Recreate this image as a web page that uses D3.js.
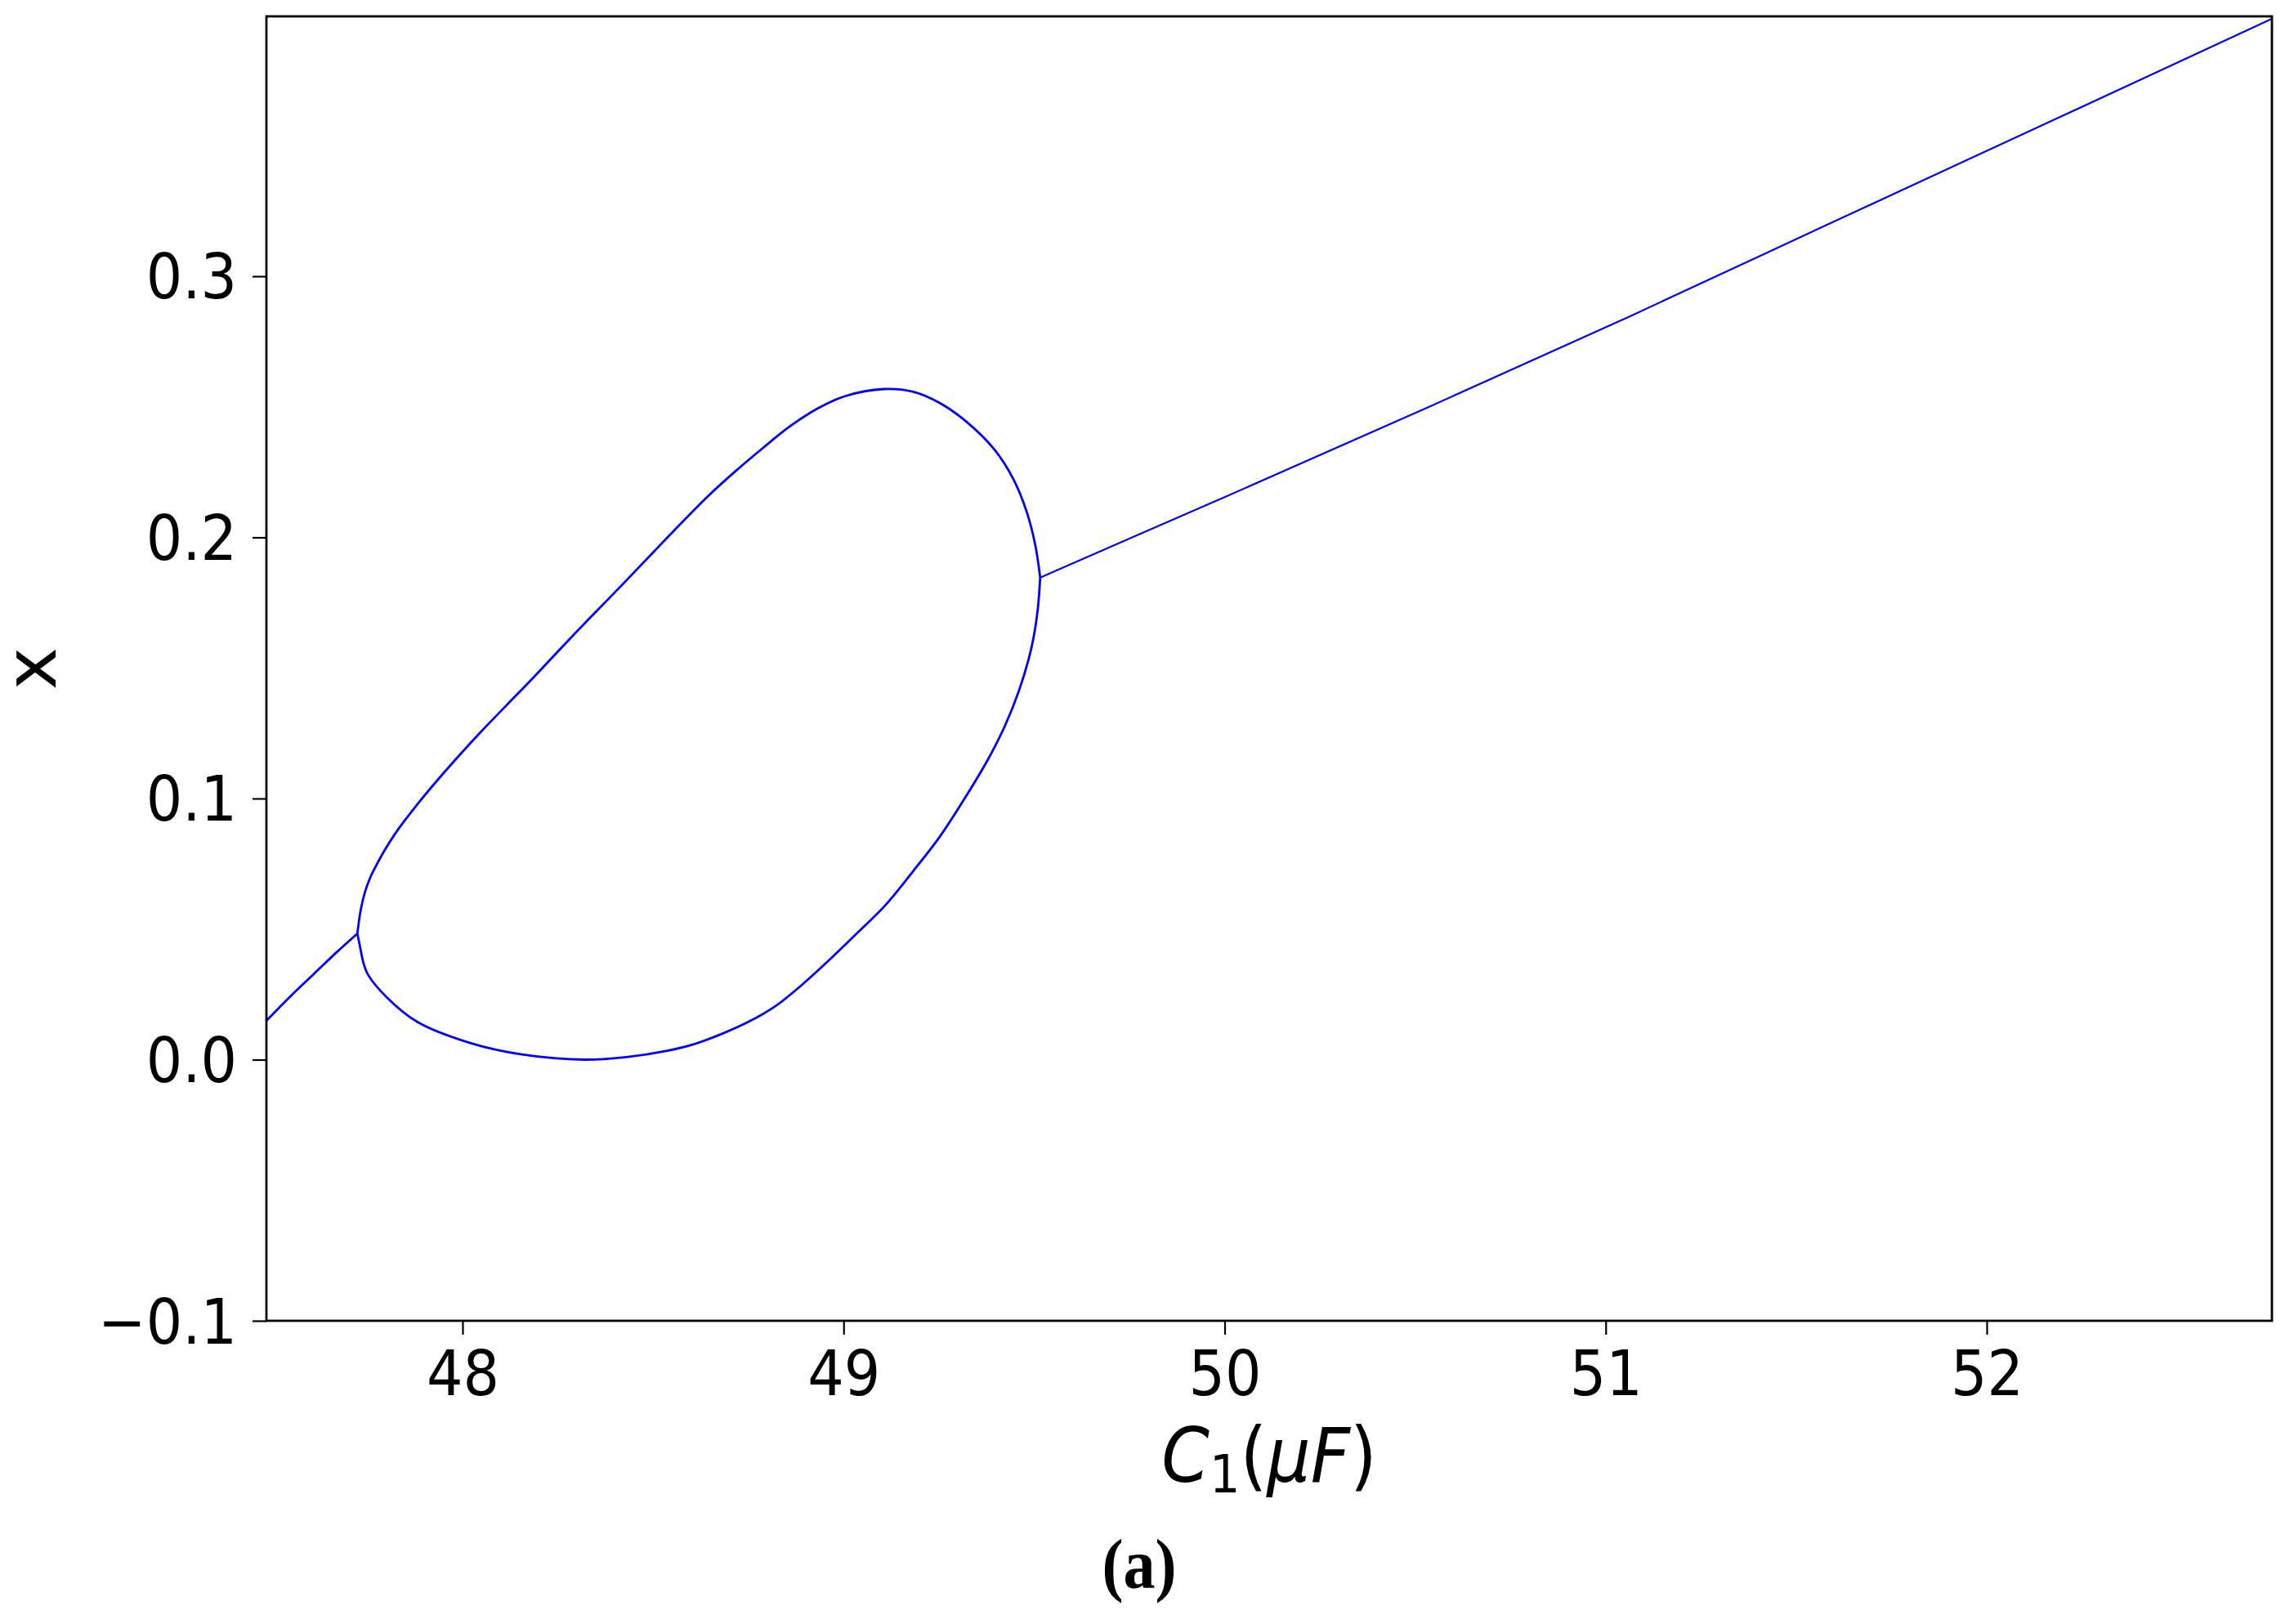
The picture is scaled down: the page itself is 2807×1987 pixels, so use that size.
<!DOCTYPE html>
<html>
<head>
<meta charset="utf-8">
<script src="https://cdn.jsdelivr.net/npm/d3@7"></script>
<style>
  body { margin: 0; background: #fff; }
  text { font-family: "DejaVu Sans", sans-serif; fill: #000; }
</style>
</head>
<body>
<svg width="2807" height="1987"></svg>
<script>
// tick values
const xTicks = [48, 49, 50, 51, 52]
const yTicks = [-0.1, 0.0, 0.1, 0.2, 0.3]

// branch before the loop opens
const leadC1 = [47.486, 47.550, 47.609, 47.670, 47.724]
const leadX  = [0.0150, 0.0245, 0.0327, 0.0412, 0.0483]

// upper side of the loop
const upperC1 = [47.724, 47.733, 47.744, 47.758, 47.773, 47.794, 47.823, 47.851, 47.887, 47.937, 47.987,
                 48.044, 48.116, 48.187, 48.287, 48.402, 48.502, 48.545, 48.645, 48.716, 48.788, 48.859,
                 48.931, 49.002, 49.106, 49.181, 49.253, 49.324, 49.396, 49.446, 49.481, 49.503, 49.516]
const upperX  = [0.0483, 0.0575, 0.0642, 0.0698, 0.0742, 0.0798, 0.0865, 0.0921, 0.0988, 0.1075, 0.1158,
                 0.1249, 0.1358, 0.1465, 0.1620, 0.1793, 0.1945, 0.2011, 0.2159, 0.2253, 0.2342, 0.2425,
                 0.2493, 0.2540, 0.2568, 0.2558, 0.2514, 0.2441, 0.2336, 0.2222, 0.2096, 0.1971, 0.1846]

// lower side of the loop
const lowerC1 = [47.724, 47.732, 47.740, 47.752, 47.801, 47.883, 48.020, 48.156, 48.320, 48.430, 48.540,
                 48.609, 48.681, 48.752, 48.824, 48.895, 48.967, 49.038, 49.110, 49.181, 49.253, 49.324,
                 49.381, 49.424, 49.460, 49.485, 49.499, 49.510, 49.516]
const lowerX  = [0.0483, 0.0425, 0.0370, 0.0325, 0.0239, 0.0143, 0.0064, 0.0020, 0.0000, 0.0010, 0.0035,
                 0.0060, 0.0099, 0.0146, 0.0208, 0.0292, 0.0388, 0.0488, 0.0592, 0.0719, 0.0855, 0.1015,
                 0.1155, 0.1280, 0.1412, 0.1530, 0.1620, 0.1730, 0.1846]

// branch after the loop closes
const tailC1 = [49.516, 49.567, 50.000, 50.532, 51.064, 51.597, 52.129, 52.747]
const tailX  = [0.1846, 0.1879, 0.2154, 0.2497, 0.2847, 0.3208, 0.3567, 0.3985]

const plotL = 326, plotR = 2780, plotT = 20, plotB = 1616
const svg = d3.select("svg")

var x = d3.scaleLinear().domain([47.4853, 52.7485]).range([plotL, plotR])
var y = d3.scaleLinear().domain([-0.1, 0.39953]).range([plotB, plotT])

var loopLine = d3.line()
    .x(d => x(d[0]))
    .y(d => y(d[1]))
    .curve(d3.curveCatmullRom.alpha(0.5))

var flatLine = d3.line()
    .x(d => x(d[0]))
    .y(d => y(d[1]))
    .curve(d3.curveMonotoneX)

const branches = [
    { c: leadC1, v: leadX, w: 2.8, gen: flatLine },
    { c: upperC1, v: upperX, w: 2.8, gen: loopLine },
    { c: lowerC1, v: lowerX, w: 2.8, gen: loopLine },
    { c: tailC1, v: tailX, w: 2.2, gen: flatLine }
]

svg.append("g")
    .selectAll("path")
    .data(branches)
    .join("path")
    .attr("d", b => b.gen(d3.zip(b.c, b.v)))
    .attr("fill", "none")
    .attr("stroke", "#0000ff")
    .attr("stroke-width", b => b.w)

// x axis
var xAxis = svg.append("g")
    .attr("transform", `translate(0,${plotB})`)
    .call(d3.axisBottom(x).tickValues(xTicks).tickSize(17).tickFormat(d3.format("d")))
xAxis.select(".domain").remove()
xAxis.selectAll(".tick line").attr("stroke", "#000").attr("stroke-width", 2.2)
xAxis.selectAll(".tick text")
    .attr("x", 0).attr("y", 0).attr("dy", 0)
    .attr("transform", "translate(0,91) scale(1,1.1)")
    .attr("text-anchor", "middle")
    .style("font-size", "70px")

// y axis
var yAxis = svg.append("g")
    .attr("transform", `translate(${plotL},0)`)
    .call(d3.axisLeft(y).tickValues(yTicks).tickSize(17).tickFormat(d3.format(".1f")))
yAxis.select(".domain").remove()
yAxis.selectAll(".tick line").attr("stroke", "#000").attr("stroke-width", 2.2)
yAxis.selectAll(".tick text")
    .attr("x", 0).attr("y", 0).attr("dy", 0)
    .attr("transform", "translate(-36,27) scale(1,1.1)")
    .attr("text-anchor", "end")
    .style("font-size", "70px")

// frame
svg.append("rect")
    .attr("x", plotL)
    .attr("y", plotT)
    .attr("width", plotR - plotL)
    .attr("height", plotB - plotT)
    .attr("fill", "none")
    .attr("stroke", "#000")
    .attr("stroke-width", 2.8)

// axis labels
var xLabel = svg.append("text")
    .attr("transform", `translate(${(plotL + plotR) / 2},1813) scale(1,1.1)`)
    .attr("text-anchor", "middle")
    .style("font-size", "84px")
xLabel.append("tspan").style("font-style", "italic").text("C")
xLabel.append("tspan").style("font-size", "59px").attr("dy", 12).text("1")
xLabel.append("tspan").attr("dy", -12).text("(")
xLabel.append("tspan").style("font-style", "italic").text("\u03bcF")
xLabel.append("tspan").text(")")

svg.append("text")
    .attr("transform", `translate(68,${(plotT + plotB) / 2}) rotate(-90)`)
    .attr("text-anchor", "middle")
    .style("font-size", "88px")
    .text("x")

svg.append("text")
    .attr("transform", "translate(1394,1943) scale(1,1.1)")
    .attr("text-anchor", "middle")
    .style("font-family", "'Liberation Serif', serif")
    .style("font-weight", "bold")
    .style("font-size", "78px")
    .text("(a)")
</script>
</body>
</html>
